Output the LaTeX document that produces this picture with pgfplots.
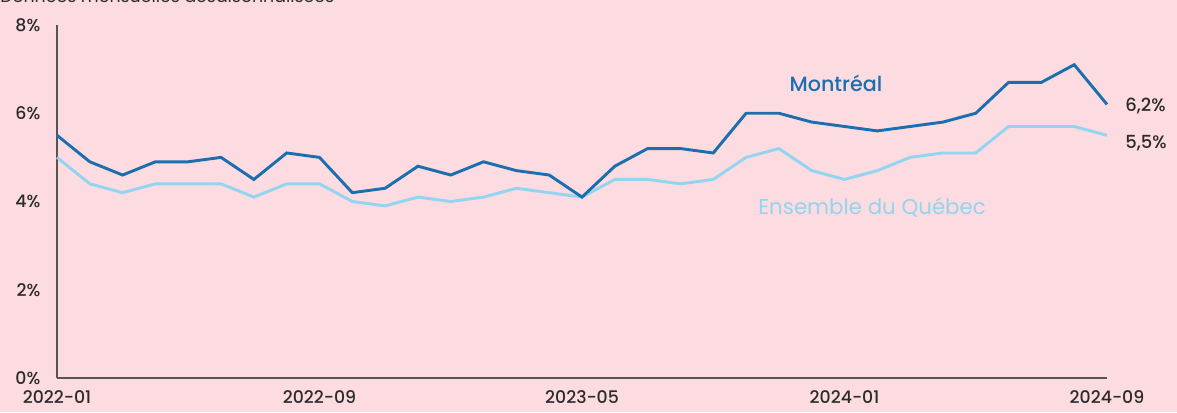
\documentclass[border=0pt]{standalone}
\usepackage{pgfplots}
\pgfplotsset{compat=1.18}
\usepackage{fontspec}
\setmainfont{Poppins}
\newfontfamily\medfont{Poppins Medium}
\definecolor{bg}{HTML}{FDDCE1}
\definecolor{mtl}{HTML}{1B6FAF}
\definecolor{qc}{HTML}{93D4F0}
\definecolor{txt}{HTML}{2B2B2B}
\definecolor{axc}{HTML}{555555}
\begin{document}
\begin{tikzpicture}
\path[use as bounding box, fill=bg] (0,0) rectangle (882.75pt,309pt);
\clip (0,0) rectangle (882.75pt,309pt);
\node[anchor=base west, text=txt, font=\fontsize{13}{15}\selectfont, inner sep=0] at (0pt,307.5pt) {Données mensuelles désaisonnalisées};
\begin{axis}[
  at={(42.75pt,25.5pt)}, anchor=south west,
  scale only axis, width=787.5pt, height=264.75pt,
  xmin=0, xmax=32, ymin=0, ymax=8,
  axis x line=bottom, axis y line=left,
  axis line style={-, axc, line width=1.1pt},
  major tick length=0pt,
  xtick={0,8,16,24,32},
  xticklabels={2022-01,2022-09,2023-05,2024-01,2024-09},
  ytick={0,2,4,6,8},
  yticklabels={0\%,2\%,4\%,6\%,8\%},
  tick label style={font=\medfont\fontsize{13}{15}\selectfont, text=txt},
  yticklabel style={xshift=-9pt},
  xticklabel style={yshift=-6pt},
  clip=false,
]
\addplot[qc, line width=2.2pt] coordinates {
(0,5.0)(1,4.4)(2,4.2)(3,4.4)(4,4.4)(5,4.4)(6,4.1)(7,4.4)(8,4.4)(9,4.0)(10,3.9)
(11,4.1)(12,4.0)(13,4.1)(14,4.3)(15,4.2)(16,4.1)(17,4.5)(18,4.5)(19,4.4)(20,4.5)
(21,5.0)(22,5.2)(23,4.7)(24,4.5)(25,4.7)(26,5.0)(27,5.1)(28,5.1)(29,5.7)(30,5.7)(31,5.7)(32,5.5)};
\addplot[mtl, line width=2.2pt] coordinates {
(0,5.5)(1,4.9)(2,4.6)(3,4.9)(4,4.9)(5,5.0)(6,4.5)(7,5.1)(8,5.0)(9,4.2)(10,4.3)
(11,4.8)(12,4.6)(13,4.9)(14,4.7)(15,4.6)(16,4.1)(17,4.8)(18,5.2)(19,5.2)(20,5.1)
(21,6.0)(22,6.0)(23,5.8)(24,5.7)(25,5.6)(26,5.7)(27,5.8)(28,6.0)(29,6.7)(30,6.7)(31,7.1)(32,6.2)};
\node[text=mtl, font=\medfont\fontsize{15.5}{17}\selectfont] at (axis cs:23.74,6.67) {Montréal};
\node[text=qc, font=\fontsize{16}{18}\selectfont] at (axis cs:24.84,3.86) {Ensemble du Québec};
\node[anchor=west, inner sep=0, text=txt, font=\medfont\fontsize{13.5}{15}\selectfont] at (axis cs:32.55,6.16) {6,2\%};
\node[anchor=west, inner sep=0, text=txt, font=\medfont\fontsize{13.5}{15}\selectfont] at (axis cs:32.55,5.33) {5,5\%};
\end{axis}
\end{tikzpicture}
\end{document}
